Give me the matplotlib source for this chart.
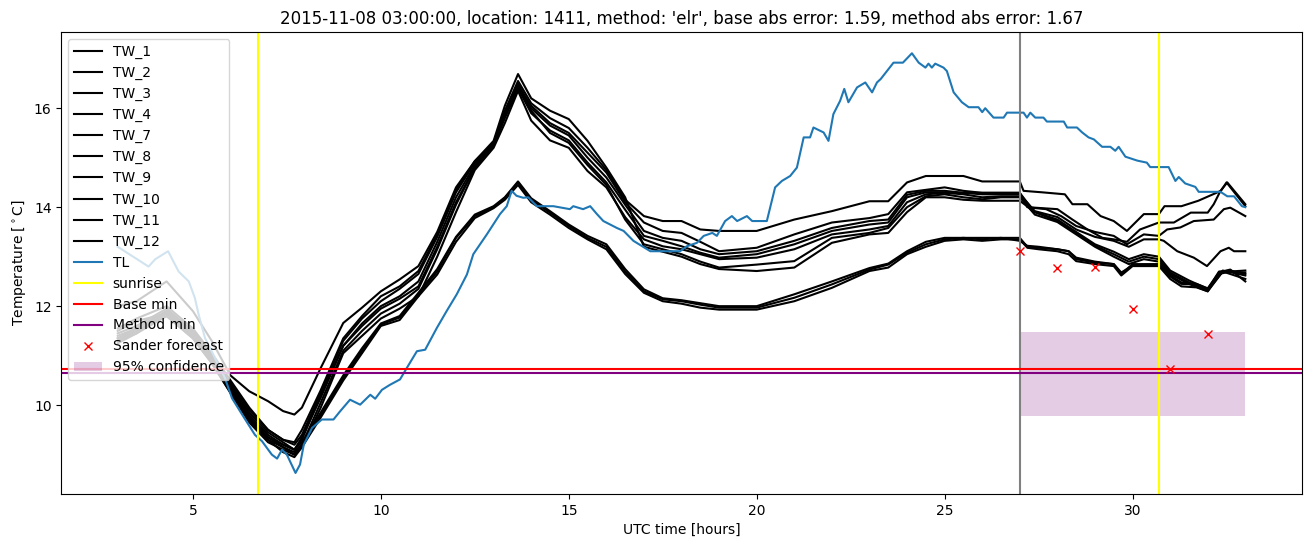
import matplotlib
matplotlib.use('Agg')
import matplotlib.pyplot as plt

# hours shared by all TW series up to the forecast time
hours = [3.0, 3.5, 4.3, 5.0, 5.5, 6.0, 6.5, 7.0, 7.4, 7.7, 7.9, 8.4, 9.0, 9.5, 10.0, 10.5,
         11.0, 11.5, 12.0, 12.5, 13.0, 13.3, 13.65, 14.0, 14.5, 15.0, 15.5, 16.0, 16.5,
         17.0, 17.5, 18.0, 18.5, 19.0, 20.0, 21.0, 22.0, 23.0, 23.5, 24.0, 24.5, 25.0,
         25.5, 26.0, 26.5, 27.0]

tw_1 = [11.45, 11.6, 11.95, 11.5, 11.0, 10.45, 9.9, 9.5, 9.3, 9.2, 9.4, 10.25, 11.3, 11.75, 12.1, 12.35,
        12.65, 13.4, 14.3, 14.9, 15.3, 15.95, 16.55, 16.1, 15.8, 15.6, 15.2, 14.75, 14.15,
        13.82, 13.72, 13.72, 13.55, 13.52, 13.52, 13.75, 13.92, 14.12, 14.12, 14.5, 14.63, 14.63,
        14.63, 14.52, 14.52, 14.52]
tw_2 = [12.0, 12.1, 12.5, 11.9, 11.3, 10.6, 10.28, 10.08, 9.88, 9.81, 9.95, 10.75, 11.66, 11.97, 12.3, 12.54,
        12.81, 13.5, 14.4, 14.93, 15.3, 15.9, 16.45, 16.05, 15.7, 15.5, 15.1, 14.7, 14.1,
        13.69, 13.52, 13.48, 13.3, 13.11, 13.18, 13.45, 13.69, 13.78, 13.86, 14.3, 14.35, 14.4,
        14.33, 14.29, 14.29, 14.29]
tw_3 = [11.4, 11.55, 11.9, 11.45, 10.95, 10.4, 9.85, 9.45, 9.25, 9.1, 9.3, 10.2, 11.2, 11.65, 12.0, 12.2,
        12.5, 13.3, 14.2, 14.85, 15.28, 15.9, 16.5, 16.0, 15.65, 15.45, 15.0, 14.6, 14.05,
        13.52, 13.38, 13.32, 13.15, 13.05, 13.11, 13.32, 13.58, 13.72, 13.75, 14.25, 14.33, 14.33,
        14.29, 14.29, 14.29, 14.29]
tw_4 = [11.5, 11.7, 11.85, 11.4, 10.9, 10.3, 9.75, 9.35, 9.15, 9.0, 9.2, 10.05, 11.1, 11.5, 11.85, 12.05,
        12.35, 13.15, 14.05, 14.8, 15.24, 15.8, 16.4, 15.9, 15.55, 15.35, 14.9, 14.5, 13.95,
        13.42, 13.32, 13.21, 13.08, 12.98, 13.05, 13.25, 13.52, 13.65, 13.69, 14.2, 14.3, 14.3,
        14.29, 14.26, 14.26, 14.26]
tw_7 = [11.35, 11.5, 11.8, 11.35, 10.85, 10.25, 9.7, 9.3, 9.05, 8.95, 9.15, 9.95, 11.05, 11.4, 11.75, 11.95,
        12.2, 13.0, 13.9, 14.75, 15.2, 15.7, 16.35, 15.75, 15.35, 15.2, 14.73, 14.4, 13.8,
        13.35, 13.21, 13.15, 13.05, 12.95, 12.98, 13.15, 13.45, 13.55, 13.62, 14.1, 14.26, 14.29,
        14.26, 14.2, 14.22, 14.22]
tw_8 = [11.3, 11.45, 11.9, 11.5, 11.0, 10.35, 9.8, 9.4, 9.2, 9.1, 9.35, 10.15, 11.2, 11.6, 11.95, 12.15,
        12.4, 13.2, 14.1, 14.8, 15.25, 15.85, 16.45, 15.95, 15.5, 15.3, 14.85, 14.45, 13.75,
        13.25, 13.15, 13.05, 12.9, 12.78, 12.84, 12.91, 13.38, 13.48, 13.58, 14.0, 14.22, 14.26,
        14.2, 14.16, 14.2, 14.2]
tw_9 = [11.55, 11.75, 12.0, 11.55, 11.05, 10.5, 9.95, 9.5, 9.3, 9.25, 9.5, 10.3, 11.35, 11.8, 12.2, 12.4,
        12.71, 13.45, 14.35, 14.93, 15.34, 16.05, 16.69, 16.2, 15.95, 15.78, 15.34, 14.8, 14.2,
        13.2, 13.1, 13.0, 12.85, 12.75, 12.71, 12.78, 13.28, 13.45, 13.48, 13.9, 14.2, 14.2,
        14.15, 14.13, 14.13, 14.13]
tw_10 = [11.3, 11.5, 11.85, 11.4, 10.9, 10.3, 9.7, 9.3, 9.15, 9.05, 9.2, 9.8, 10.55, 11.1, 11.63, 11.77,
         12.24, 12.7, 13.38, 13.82, 14.0, 14.19, 14.5, 14.15, 13.89, 13.62, 13.38, 13.2, 12.7,
         12.3, 12.14, 12.1, 12.03, 11.97, 11.97, 12.17, 12.44, 12.74, 12.84, 13.08, 13.25, 13.35,
         13.38, 13.35, 13.38, 13.38]
tw_11 = [11.25, 11.45, 11.8, 11.35, 10.85, 10.25, 9.65, 9.25, 9.1, 9.0, 9.15, 9.75, 10.5, 11.05, 11.6, 11.72,
         12.2, 12.64, 13.3, 13.78, 13.98, 14.15, 14.45, 14.1, 13.85, 13.58, 13.35, 13.15, 12.65,
         12.27, 12.1, 12.05, 11.97, 11.93, 11.93, 12.1, 12.37, 12.71, 12.78, 13.05, 13.2, 13.32,
         13.35, 13.32, 13.35, 13.35]
tw_12 = [11.35, 11.55, 11.9, 11.45, 10.95, 10.35, 9.75, 9.35, 9.2, 9.1, 9.25, 9.85, 10.6, 11.15, 11.65, 11.8,
         12.27, 12.75, 13.4, 13.85, 14.02, 14.2, 14.52, 14.18, 13.92, 13.65, 13.42, 13.25, 12.75,
         12.34, 12.16, 12.12, 12.06, 12.0, 12.0, 12.24, 12.5, 12.77, 12.86, 13.11, 13.3, 13.38,
         13.38, 13.38, 13.38, 13.32]

# after 27h every series has its own breakpoints
tail_h_1 = [27.1, 27.6, 28.2, 28.4, 28.8, 29.15, 29.5, 29.85, 30.3, 30.7, 30.85, 31.3, 31.75, 32.35, 32.5, 33.0]
tail_v_1 = [14.33, 14.3, 14.26, 14.06, 14.06, 13.82, 13.72, 13.52, 13.86, 13.86, 14.02, 14.02, 14.13, 14.33, 14.5, 14.02]
tail_h_2 = [27.2, 28.0, 28.4, 28.8, 29.2, 29.5, 29.85, 30.2, 30.7, 31.1, 31.55, 32.0, 32.16, 32.34, 32.52, 33.0]
tail_v_2 = [14.0, 13.96, 13.75, 13.55, 13.38, 13.35, 13.3, 13.55, 13.69, 13.69, 13.89, 13.89, 14.06, 14.33, 14.5, 14.06]
tail_h_3 = [27.3, 27.7, 28.1, 28.5, 29.0, 29.5, 29.85, 30.3, 30.7, 30.92, 31.27, 31.63, 32.16, 32.43, 32.6, 33.0]
tail_v_3 = [13.99, 13.96, 13.82, 13.62, 13.5, 13.42, 13.25, 13.45, 13.42, 13.55, 13.59, 13.72, 13.75, 13.96, 13.99, 13.82]
tail_h_4 = [27.4, 28.0, 28.5, 29.0, 29.5, 29.9, 30.3, 30.7, 30.83, 31.19, 31.63, 31.98, 32.34, 32.56, 32.7, 33.0]
tail_v_4 = [13.92, 13.8, 13.55, 13.4, 13.32, 13.2, 13.35, 13.35, 13.32, 13.11, 12.98, 12.81, 13.11, 13.18, 13.11, 13.11]
tail_h_789 = [27.4, 28.0, 28.5, 29.0, 29.5, 29.9, 30.3, 30.7, 31.0, 31.5, 32.0, 32.4, 33.0]
tail_v_7 = [13.9, 13.75, 13.5, 13.25, 13.1, 12.95, 13.05, 13.0, 12.72, 12.52, 12.35, 12.72, 12.62]
tail_v_8 = [13.85, 13.7, 13.45, 13.2, 13.0, 12.85, 12.95, 12.9, 12.65, 12.45, 12.3, 12.7, 12.55]
tail_v_9 = [13.9, 13.72, 13.48, 13.22, 13.05, 12.9, 13.0, 12.95, 12.68, 12.48, 12.32, 12.7, 12.68]
tail_h_low = [27.2, 27.5, 28.0, 28.3, 28.5, 29.0, 29.5, 29.7, 30.0, 30.7, 31.0, 31.3, 31.7, 32.0, 32.3, 32.6, 33.0]
tail_v_10 = [13.2, 13.18, 13.15, 13.11, 12.95, 12.88, 12.85, 12.65, 12.85, 12.85, 12.6, 12.45, 12.44, 12.34, 12.7, 12.72, 12.65]
tail_v_11 = [13.18, 13.15, 13.11, 13.05, 12.91, 12.85, 12.81, 12.62, 12.81, 12.81, 12.55, 12.4, 12.38, 12.3, 12.65, 12.7, 12.72]
tail_v_12 = [13.22, 13.2, 13.15, 13.11, 12.98, 12.9, 12.85, 12.68, 12.82, 12.84, 12.62, 12.48, 12.45, 12.36, 12.68, 12.74, 12.5]

tw_names = ['TW_1', 'TW_2', 'TW_3', 'TW_4', 'TW_7', 'TW_8', 'TW_9', 'TW_10', 'TW_11', 'TW_12']
tw_vals = [tw_1, tw_2, tw_3, tw_4, tw_7, tw_8, tw_9, tw_10, tw_11, tw_12]
tw_tails = [(tail_h_1, tail_v_1), (tail_h_2, tail_v_2), (tail_h_3, tail_v_3), (tail_h_4, tail_v_4),
            (tail_h_789, tail_v_7), (tail_h_789, tail_v_8), (tail_h_789, tail_v_9),
            (tail_h_low, tail_v_10), (tail_h_low, tail_v_11), (tail_h_low, tail_v_12)]

tl_hours = [3.0, 3.82, 4.0, 4.34, 4.62, 4.89, 5.05, 5.15, 5.32, 5.59, 5.85, 6.04, 6.31, 6.65, 6.84, 7.1,
            7.24, 7.37, 7.5, 7.73, 7.85, 7.95, 8.17, 8.43, 8.74, 8.91, 9.18, 9.45, 9.72, 9.85, 10.03,
            10.24, 10.51, 10.69, 10.96, 11.18, 11.49, 11.75, 12.02, 12.29, 12.46, 12.82, 13.17, 13.35,
            13.48, 13.61, 13.79, 13.92, 14.15, 14.59, 15.03, 15.12, 15.38, 15.57, 15.75, 15.92, 16.28,
            16.46, 16.72, 17.17, 17.96, 18.14, 18.41, 18.59, 18.82, 18.94, 19.16, 19.34, 19.48, 19.74,
            19.88, 20.27, 20.49, 20.67, 20.89, 21.07, 21.25, 21.42, 21.51, 21.78, 21.91, 22.04, 22.22,
            22.33, 22.44, 22.67, 22.89, 23.07, 23.2, 23.3, 23.64, 23.89, 24.13, 24.31, 24.49, 24.57,
            24.66, 24.75, 24.97, 25.06, 25.24, 25.46, 25.64, 25.9, 26.0, 26.08, 26.3, 26.57, 26.66,
            27.1, 27.19, 27.28, 27.41, 27.63, 27.72, 28.17, 28.26, 28.52, 28.66, 28.83, 28.97, 29.19,
            29.41, 29.54, 29.63, 29.81, 30.13, 30.38, 30.47, 30.96, 31.14, 31.23, 31.4, 31.67, 31.76,
            32.34, 32.52, 32.7, 32.91, 33.0]
tl_vals = [13.2, 12.8, 12.95, 13.11, 12.7, 12.5, 12.17, 11.84, 11.36, 10.95, 10.55, 10.14, 9.81, 9.4, 9.27, 9.0,
           8.92, 9.1, 9.0, 8.63, 8.8, 9.2, 9.54, 9.71, 9.71, 9.87, 10.11, 10.01, 10.21, 10.13, 10.31,
           10.41, 10.52, 10.75, 11.09, 11.12, 11.56, 11.9, 12.24, 12.64, 13.05, 13.45, 13.86, 14.02,
           14.33, 14.23, 14.19, 14.2, 14.02, 14.02, 13.96, 14.02, 13.96, 14.02, 13.86, 13.72, 13.58,
           13.52, 13.32, 13.11, 13.11, 13.21, 13.28, 13.42, 13.48, 13.42, 13.72, 13.82, 13.72, 13.82,
           13.72, 13.72, 14.4, 14.53, 14.63, 14.8, 15.41, 15.41, 15.61, 15.51, 15.34, 15.88, 16.15,
           16.39, 16.12, 16.42, 16.52, 16.32, 16.52, 16.59, 16.92, 16.92, 17.11, 16.92, 16.82, 16.9,
           16.82, 16.9, 16.82, 16.75, 16.32, 16.12, 16.02, 16.02, 15.92, 16.0, 15.81, 15.81, 15.91,
           15.91, 15.81, 15.91, 15.81, 15.81, 15.73, 15.73, 15.61, 15.61, 15.51, 15.41, 15.37, 15.22,
           15.22, 15.14, 15.22, 15.02, 14.94, 14.9, 14.81, 14.81, 14.53, 14.61, 14.48, 14.41, 14.31,
           14.31, 14.22, 14.22, 14.02, 14.0]

sunrise = [6.73, 30.7]
forecast_time = 27
base_min = 10.73
method_min = 10.64
sander_hours = [27, 28, 29, 30, 31, 32]
sander_vals = [13.11, 12.78, 12.8, 11.95, 10.73, 11.43]
conf_hours = [27, 33]
conf_low = 9.79
conf_high = 11.47

fig, ax = plt.subplots(figsize=(13.11, 5.47), dpi=100)
fig.subplots_adjust(left=0.0468, right=0.9929, top=0.941, bottom=0.097)

for name, vals, (th, tv) in zip(tw_names, tw_vals, tw_tails):
    ax.plot(hours + th, vals + tv, color='k', label=name)
ax.plot(tl_hours, tl_vals, color='C0', label='TL')

ax.axvline(sunrise[0], color='yellow', label='sunrise')
ax.axvline(sunrise[1], color='yellow')
ax.axvline(forecast_time, color='grey')
ax.axhline(base_min, color='red', label='Base min')
ax.axhline(method_min, color='purple', label='Method min')
ax.plot(sander_hours, sander_vals, 'x', color='red', label='Sander forecast')
ax.fill_between(conf_hours, conf_low, conf_high, color='purple', alpha=0.2, linewidth=0,
                label='95% confidence')

ax.set_xlabel('UTC time [hours]')
ax.set_ylabel('Temperature [$^\\circ$C]')
ax.set_title("2015-11-08 03:00:00, location: 1411, method: 'elr', base abs error: 1.59, method abs error: 1.67")
ax.legend(loc='upper left')

plt.savefig('out.png')
